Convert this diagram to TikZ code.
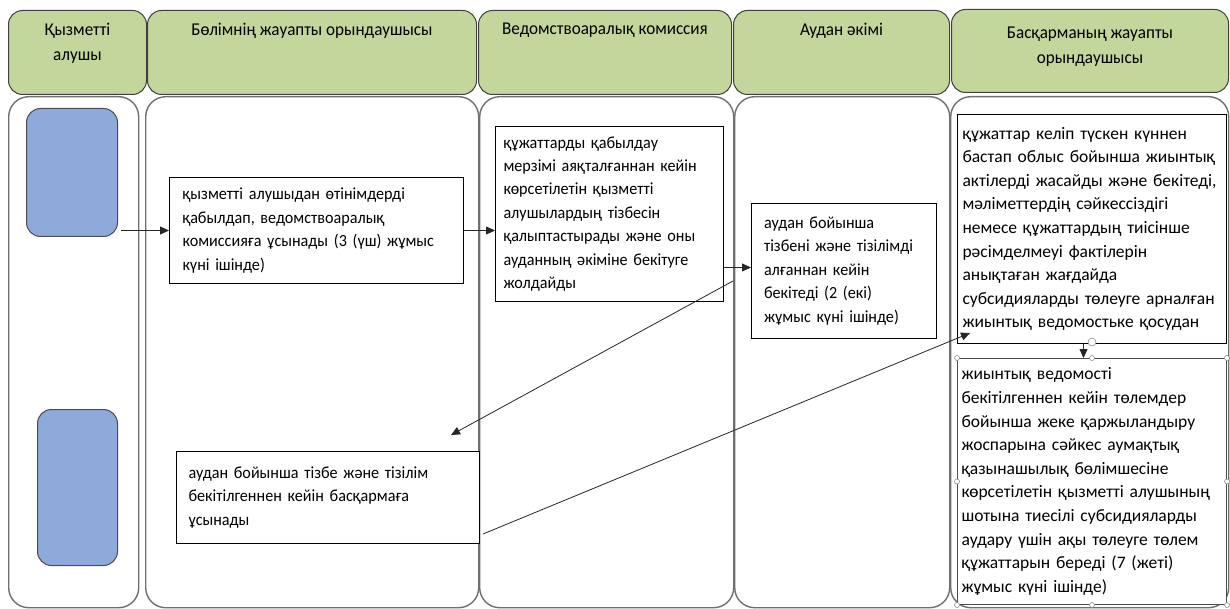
\documentclass[tikz,border=0pt]{standalone}
\usepackage{fontspec}
\setmainfont{Carlito}[FakeStretch=0.95]
\newfontfamily\widefont{Carlito}
\usetikzlibrary{arrows.meta,calc}
\definecolor{hdrgreen}{HTML}{C3D69B}
\definecolor{stepblue}{HTML}{8EAADB}
\definecolor{lanegray}{HTML}{6F6F6F}
\newcommand\tline[1]{\mbox{#1}}
\begin{document}
\begin{tikzpicture}[x=1pt,y=-1pt,
  header/.style={draw=black!75, line width=1pt, fill=hdrgreen, rounded corners=14pt, anchor=north west, inner sep=0pt},
  hdrtext/.style={align=center, anchor=north, inner sep=0pt, font=\fontsize{18}{25}\selectfont},
  lanebody/.style={draw=lanegray, line width=1.4pt, rounded corners=20pt, anchor=north west, inner sep=0pt},
  bluebox/.style={draw=black!70, line width=1pt, fill=stepblue, rounded corners=14pt, anchor=north west, inner sep=0pt},
  txtbox/.style={draw=black, line width=1pt, fill=white, align=left, anchor=north west, inner ysep=0pt, font=\fontsize{17}{23.4}\selectfont},
  widebox/.style={txtbox, font=\widefont\fontsize{17.5}{23.6}\selectfont},
  arr/.style={-{Triangle[length=9pt,width=8pt]}, line width=0.8pt, draw=black!85},
  handle/.style={circle, draw=black!45, fill=white, line width=0.6pt, inner sep=0pt, minimum size=5pt},
  ]
\useasboundingbox (0,0) rectangle (1230,609);
\fill[white] (0,0) rectangle (1230,609);

% lane bodies
\node[lanebody, minimum width=130pt, minimum height=511pt] (l1) at (8,96) {};
\node[lanebody, minimum width=333pt, minimum height=511pt] (l2) at (145,96) {};
\node[lanebody, minimum width=254pt, minimum height=511pt] (l3) at (479,96) {};
\node[lanebody, minimum width=215pt, minimum height=511pt] (l4) at (734,96) {};
\node[lanebody, minimum width=278pt, minimum height=511pt] (l5) at (950,96) {};

% headers
\node[header, minimum width=138pt, minimum height=84pt] (h1) at (8,10) {};
\node[header, minimum width=329pt, minimum height=84pt] (h2) at (147,10) {};
\node[header, minimum width=253pt, minimum height=84pt] (h3) at (478,10) {};
\node[header, minimum width=216pt, minimum height=84pt] (h4) at (733,10) {};
\node[header, minimum width=277pt, minimum height=83pt] (h5) at (951,9) {};
\node[hdrtext] (h1t) at ([yshift=-13pt]h1.north) {Қызметті\\алушы};
\node[hdrtext] (h2t) at ([yshift=-13pt]h2.north) {Бөлімнің жауапты орындаушысы};
\node[hdrtext] (h3t) at ([yshift=-13pt]h3.north) {Ведомствоаралық комиссия};
\node[hdrtext] (h4t) at ([yshift=-13pt]h4.north) {Аудан әкімі};
\node[hdrtext] (h5t) at ([yshift=-18pt]h5.north) {Басқарманың жауапты\\орындаушысы};

% service receiver boxes
\node[bluebox, minimum width=91pt, minimum height=128pt] (b1) at (26,108) {};
\node[bluebox, minimum width=80pt, minimum height=156pt] (b2) at (37,409) {};

% process boxes
\node[txtbox, minimum width=294pt, minimum height=106pt, text width=268pt, inner xsep=13pt] (A) at (169,177)
 {\tline{қызметті алушыдан өтінімдерді}\\\tline{қабылдап, ведомствоаралық}\\\tline{комиссияға ұсынады (3 (үш) жұмыс}\\\tline{күні ішінде)}};
\node[txtbox, minimum width=228pt, minimum height=175pt, text width=212pt, inner xsep=8pt] (B) at (495,126)
 {\tline{құжаттарды қабылдау}\\\tline{мерзімі аяқталғаннан кейін}\\\tline{көрсетілетін қызметті}\\\tline{алушылардың тізбесін}\\\tline{қалыптастырады және оны}\\\tline{ауданның әкіміне бекітуге}\\\tline{жолдайды}};
\node[txtbox, minimum width=185pt, minimum height=135pt, text width=160pt, inner xsep=12.5pt] (C) at (751,203)
 {\tline{аудан бойынша}\\\tline{тізбені және тізілімді}\\\tline{алғаннан кейін}\\\tline{бекітеді (2 (екі)}\\\tline{жұмыс күні ішінде)}};
\node[txtbox, minimum width=303pt, minimum height=92pt, text width=279pt, inner xsep=12pt] (D) at (176,451)
 {\tline{аудан бойынша тізбе және тізілім}\\\tline{бекітілгеннен кейін басқармаға}\\\tline{ұсынады}};
\node[widebox, minimum width=269pt, minimum height=229pt, text width=259pt, inner xsep=5pt] (E) at (957,114)
 {\tline{құжаттар келіп түскен күннен}\\\tline{бастап облыс бойынша жиынтық}\\\tline{актілерді жасайды және бекітеді,}\\\tline{мәліметтердің сәйкессіздігі}\\\tline{немесе құжаттардың тиісінше}\\\tline{рәсімделмеуі фактілерін}\\\tline{анықтаған жағдайда}\\\tline{субсидияларды төлеуге арналған}\\\tline{жиынтық ведомостьке қосудан}};
\node[widebox, draw=black!70, minimum width=269pt, minimum height=246pt, text width=261pt, inner xsep=4pt] (F) at (957,358)
 {\tline{жиынтық ведомості}\\\tline{бекітілгеннен кейін төлемдер}\\\tline{бойынша жеке қаржыландыру}\\\tline{жоспарына сәйкес аумақтық}\\\tline{қазынашылық бөлімшесіне}\\\tline{көрсетілетін қызметті алушының}\\\tline{шотына тиесілі субсидияларды}\\\tline{аудару үшін ақы төлеуге төлем}\\\tline{құжаттарын береді (7 (жеті)}\\\tline{жұмыс күні ішінде)}};

% connectors
\draw[arr] ([xshift=3pt]b1.east |- A.west) -- (A.west);
\draw[arr] (A.east) -- (A.east -| B.west);
\path ([yshift=-53.5pt]B.east) coordinate (bcs);
\draw[arr] (bcs) -- (bcs -| C.west);
\coordinate (l1s) at (733,281);
\coordinate (l1e) at (451,435);
\draw[arr] (l1s) -- (l1e);
\coordinate (l2s) at (483,534);
\coordinate (l2e) at (970,333);
\draw[arr] (l2s) -- (l2e);
\draw[arr] ([xshift=-8.5pt]E.south) -- ([xshift=-8.5pt]F.north);

% selection handles of the last box
\foreach \a in {north west,north east,south west,south east,north,south,west,east}
  \node[handle] at (F.\a) {};
\node[handle, minimum size=8pt] (rot) at ([yshift=16pt]F.north) {};
\end{tikzpicture}
\end{document}
